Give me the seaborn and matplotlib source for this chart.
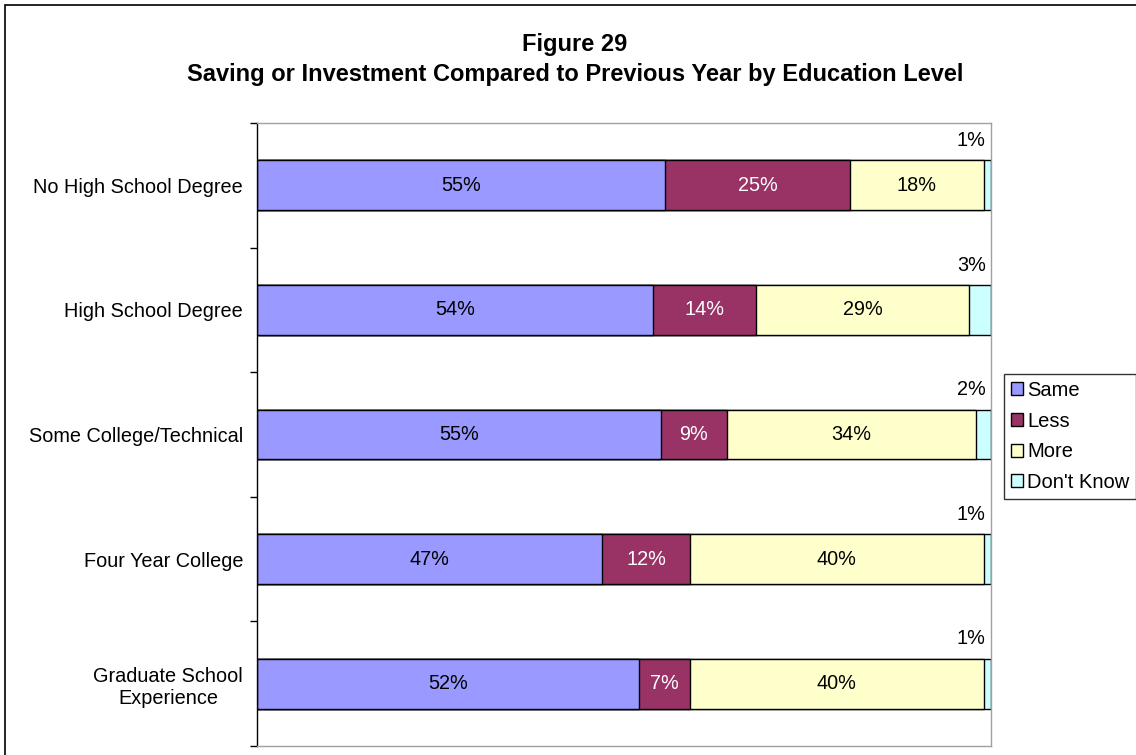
import numpy as np
import pandas as pd
import seaborn as sns
import matplotlib.pyplot as plt
from matplotlib.patches import Patch, Rectangle

# data
categories = ["No High School Degree", "High School Degree", "Some College/Technical",
              "Four Year College", "Graduate School\nExperience"]
series = ["Same", "Less", "More", "Don't Know"]
same = [55, 54, 55, 47, 52]
less = [25, 14, 9, 12, 7]
more = [18, 29, 34, 40, 40]
dont_know = [1, 3, 2, 1, 1]
colors = ["#9999FF", "#993366", "#FFFFCC", "#CCFFFF"]
label_colors = ["black", "white", "black", "black"]

sns.set_style("white")
plt.rcParams['font.family'] = ['Liberation Sans', 'DejaVu Sans']
plt.rcParams['text.color'] = 'black'
plt.rcParams['ytick.color'] = 'black'

vals = np.array([same, less, more, dont_know], dtype=float)
norm = vals / vals.sum(axis=0) * 100
cum = np.cumsum(norm, axis=0)

fig = plt.figure(figsize=(11.36, 7.55), dpi=100)
ax = fig.add_axes([257 / 1136, 1 - 746 / 755, (991 - 257) / 1136, (746 - 123) / 755])

# draw cumulative totals from the right end backwards so segments overlap
for i in range(len(series) - 1, -1, -1):
    df = pd.DataFrame({"cat": categories, "val": cum[i]})
    sns.barplot(data=df, x="val", y="cat", orient="h", color=colors[i], saturation=1,
                edgecolor="black", linewidth=1, width=0.4, ax=ax)

fs = 14.3
# labels
for j in range(len(categories)):
    for i in range(3):
        start = cum[i - 1, j] if i > 0 else 0
        ax.text(start + norm[i, j] / 2, j, f"{int(vals[i, j])}%", ha="center", va="center",
                fontsize=fs, color=label_colors[i])
    ax.text(99.3, j - 0.36, f"{int(vals[3, j])}%", ha="right", va="center", fontsize=fs)

ax.set_xlim(0, 100)
ax.set_ylim(4.5, -0.5)
ax.set_xlabel("")
ax.set_ylabel("")
ax.set_xticks([])
ax.tick_params(axis="y", which="major", length=0, labelsize=fs, pad=10, labelcolor="black")
ax.set_yticks(np.arange(-0.5, 5, 1), minor=True)
ax.tick_params(axis="y", which="minor", length=5, width=1, color="black", direction="out", left=True)
for s in ["top", "right", "bottom"]:
    ax.spines[s].set_color("#A0A0A0")
    ax.spines[s].set_linewidth(1)
ax.spines["left"].set_color("black")
ax.spines["left"].set_linewidth(1)
for lab in ax.get_yticklabels():
    lab.set_multialignment("center")

# title
fig.text(575 / 1136, 1 - 45 / 755, "Figure 29", ha="center", va="center",
         fontsize=17, fontweight="bold")
fig.text(575 / 1136, 1 - 75 / 755, "Saving or Investment Compared to Previous Year by Education Level",
         ha="center", va="center", fontsize=17, fontweight="bold")

# legend
handles = [Patch(facecolor=c, edgecolor="black", linewidth=1) for c in colors]
leg = fig.legend(handles, series, loc="upper left", bbox_to_anchor=(1004 / 1136, 1 - 374 / 755),
                 fontsize=14.5, frameon=True, fancybox=False, handlelength=0.6, handleheight=0.6,
                 handletextpad=0.2, labelspacing=0.58, borderpad=0.34, borderaxespad=0)
leg.get_frame().set_edgecolor("black")
leg.get_frame().set_linewidth(1)

# outer chart border
fig.patches.append(Rectangle((5 / 1136, -0.1), 1.2, 1 - 5 / 755 + 0.1, transform=fig.transFigure,
                             fill=False, edgecolor="black", linewidth=1.2))

fig.savefig("out.png", dpi=100)
